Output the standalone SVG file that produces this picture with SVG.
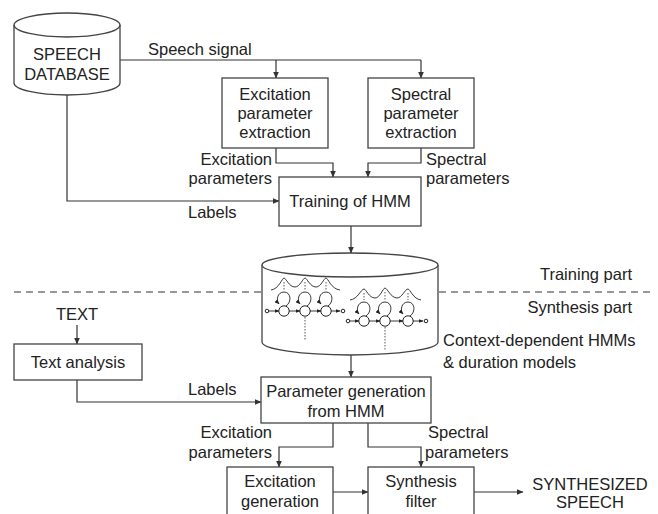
<svg xmlns="http://www.w3.org/2000/svg" width="658" height="514" viewBox="0 0 658 514">
<defs>
<marker id="ah" markerWidth="7" markerHeight="6" refX="6.5" refY="3" orient="auto" markerUnits="userSpaceOnUse"><path d="M0,0 L7,3 L0,6 Z" fill="#333"/></marker>
<marker id="sa" markerWidth="5" markerHeight="4" refX="4.5" refY="2" orient="auto" markerUnits="userSpaceOnUse"><path d="M0,0 L5,2 L0,4 Z" fill="#222"/></marker>
<style>
text{font-family:"Liberation Sans",Arial,sans-serif;font-size:16.5px;fill:#222}
.m{text-anchor:middle}.e{text-anchor:end}
.box{fill:#fff;stroke:#444;stroke-width:1.3}
.ln{fill:none;stroke:#333;stroke-width:1.2}
.arr{fill:none;stroke:#333;stroke-width:1.2;marker-end:url(#ah)}
.st{fill:#fff;stroke:#222;stroke-width:1}
.th{fill:none;stroke:#222;stroke-width:0.9}
.tr{fill:none;stroke:#222;stroke-width:0.9;marker-end:url(#sa)}
.dot{fill:none;stroke:#444;stroke-width:0.9;stroke-dasharray:1.5,1.5}
</style>
</defs>
<g id="connectors">
<path class="ln" d="M120,60 H421"/>
<path class="arr" d="M276,60 V78"/>
<path class="arr" d="M421,60 V78"/>
<path class="arr" d="M276,148 V163 H333 V177"/>
<path class="arr" d="M421,148 V163 H368 V177"/>
<path class="arr" d="M67,95 V201 H279"/>
<path class="arr" d="M351,226 V253"/>
<path class="arr" d="M351,354 V377"/>
<path class="arr" d="M77,325 V344"/>
<path class="arr" d="M77,380 V402 H261"/>
<path class="arr" d="M333,423 V447 H279 V467"/>
<path class="arr" d="M368,423 V447 H421 V467"/>
<path class="arr" d="M333,492 H368"/>
<path class="arr" d="M474,492 H523"/>
<path d="M14,292 H262 M439,292 H650" fill="none" stroke="#333" stroke-width="1.1" stroke-dasharray="7,5"/>
</g>
<g id="speech-database">
<path class="box" d="M14,25 V83 A53,12 0 0 0 120,83 V25"/>
<ellipse class="box" cx="67" cy="25" rx="53" ry="12"/>
<text class="m" x="67" y="60">SPEECH</text>
<text class="m" x="67" y="80">DATABASE</text>
</g>
<text x="148" y="55">Speech signal</text>
<g id="excitation-extraction">
<rect class="box" x="222" y="78" width="106" height="70"/>
<text class="m" x="275" y="100">Excitation</text>
<text class="m" x="275" y="119">parameter</text>
<text class="m" x="275" y="138">extraction</text>
</g>
<g id="spectral-extraction">
<rect class="box" x="368" y="78" width="106" height="70"/>
<text class="m" x="421" y="100">Spectral</text>
<text class="m" x="421" y="119">parameter</text>
<text class="m" x="421" y="138">extraction</text>
</g>
<text class="e" x="272" y="165">Excitation</text>
<text class="e" x="272" y="184">parameters</text>
<text x="426" y="165">Spectral</text>
<text x="426" y="184">parameters</text>
<text x="188" y="218">Labels</text>
<g id="training">
<rect class="box" x="279" y="177" width="142" height="49"/>
<text class="m" x="350" y="207">Training of HMM</text>
</g>
<g id="hmm-database">
<path class="box" d="M262,265 V342 A88,13 0 0 0 438,342 V265"/>
<ellipse class="box" cx="350" cy="265" rx="88" ry="12"/>
<g id="hmm-left">
<path class="th" d="M271,290 C279,289 282,278 284,278 C286,278 289,287 295,287 C300,287 303,278 305,278 C307,278 310,287 316,287 C321,287 324,278 326,278 C328,278 331,289 340,290"/>
<path class="dot" d="M284,282 V290 M305,282 V290 M326,282 V290"/>
<circle class="st" cx="267" cy="311" r="1.8"/>
<path class="tr" d="M269,311 H279"/>
<circle class="st" cx="284" cy="311" r="5.2"/>
<circle class="st" cx="305" cy="311" r="5.2"/>
<circle class="st" cx="326" cy="311" r="5.2"/>
<path class="tr" d="M289,311 H300"/>
<path class="tr" d="M310,311 H321"/>
<path class="tr" d="M331,311 H340"/>
<circle class="st" cx="343" cy="311" r="1.8"/>
<path class="tr" d="M286,306 C292,302 291,292 284,292 C277,292 276,301 279,304"/>
<path class="tr" d="M307,306 C313,302 312,292 305,292 C298,292 297,301 300,304"/>
<path class="tr" d="M328,306 C334,302 333,292 326,292 C319,292 318,301 321,304"/>
<path class="dot" d="M305,317 V340"/>
</g>
<g id="hmm-right">
<path class="th" d="M350,300 C358,299 361,289 364,289 C366,289 369,298 375,298 C380,298 383,288 385,288 C387,288 391,298 397,298 C402,298 405,289 408,289 C410,289 413,299 421,300"/>
<path class="dot" d="M364,293 V300 M385,292 V300 M408,293 V300"/>
<circle class="st" cx="348" cy="321" r="1.8"/>
<path class="tr" d="M350,321 H359"/>
<circle class="st" cx="364" cy="321" r="5.2"/>
<circle class="st" cx="385" cy="321" r="5.2"/>
<circle class="st" cx="408" cy="321" r="5.2"/>
<path class="tr" d="M369,321 H380"/>
<path class="tr" d="M390,321 H403"/>
<path class="tr" d="M413,321 H423"/>
<circle class="st" cx="426" cy="321" r="1.8"/>
<path class="tr" d="M366,316 C372,312 371,302 364,302 C357,302 356,311 359,314"/>
<path class="tr" d="M387,316 C393,312 392,302 385,302 C378,302 377,311 380,314"/>
<path class="tr" d="M410,316 C416,312 415,302 408,302 C401,302 400,311 403,314"/>
<path class="dot" d="M385,327 V350"/>
</g>
</g>
<text class="e" x="632" y="280">Training part</text>
<text class="e" x="632" y="313">Synthesis part</text>
<text x="443" y="346">Context-dependent HMMs</text>
<text x="443" y="368">&amp; duration models</text>
<text class="m" x="77" y="320">TEXT</text>
<g id="text-analysis">
<rect class="box" x="14" y="344" width="128" height="36"/>
<text class="m" x="78" y="368">Text analysis</text>
</g>
<text x="188" y="395">Labels</text>
<g id="parameter-generation">
<rect class="box" x="261" y="377" width="170" height="46"/>
<text class="m" x="346" y="397">Parameter generation</text>
<text class="m" x="346" y="417">from HMM</text>
</g>
<text class="e" x="272" y="438">Excitation</text>
<text class="e" x="272" y="458">parameters</text>
<text x="428" y="438">Spectral</text>
<text x="425" y="458">parameters</text>
<g id="excitation-generation">
<rect class="box" x="227" y="467" width="106" height="60"/>
<text class="m" x="280" y="487">Excitation</text>
<text class="m" x="280" y="507">generation</text>
</g>
<g id="synthesis-filter">
<rect class="box" x="368" y="467" width="106" height="60"/>
<text class="m" x="421" y="487">Synthesis</text>
<text class="m" x="421" y="507">filter</text>
</g>
<text class="m" x="590" y="490">SYNTHESIZED</text>
<text class="m" x="590" y="508">SPEECH</text>
</svg>
